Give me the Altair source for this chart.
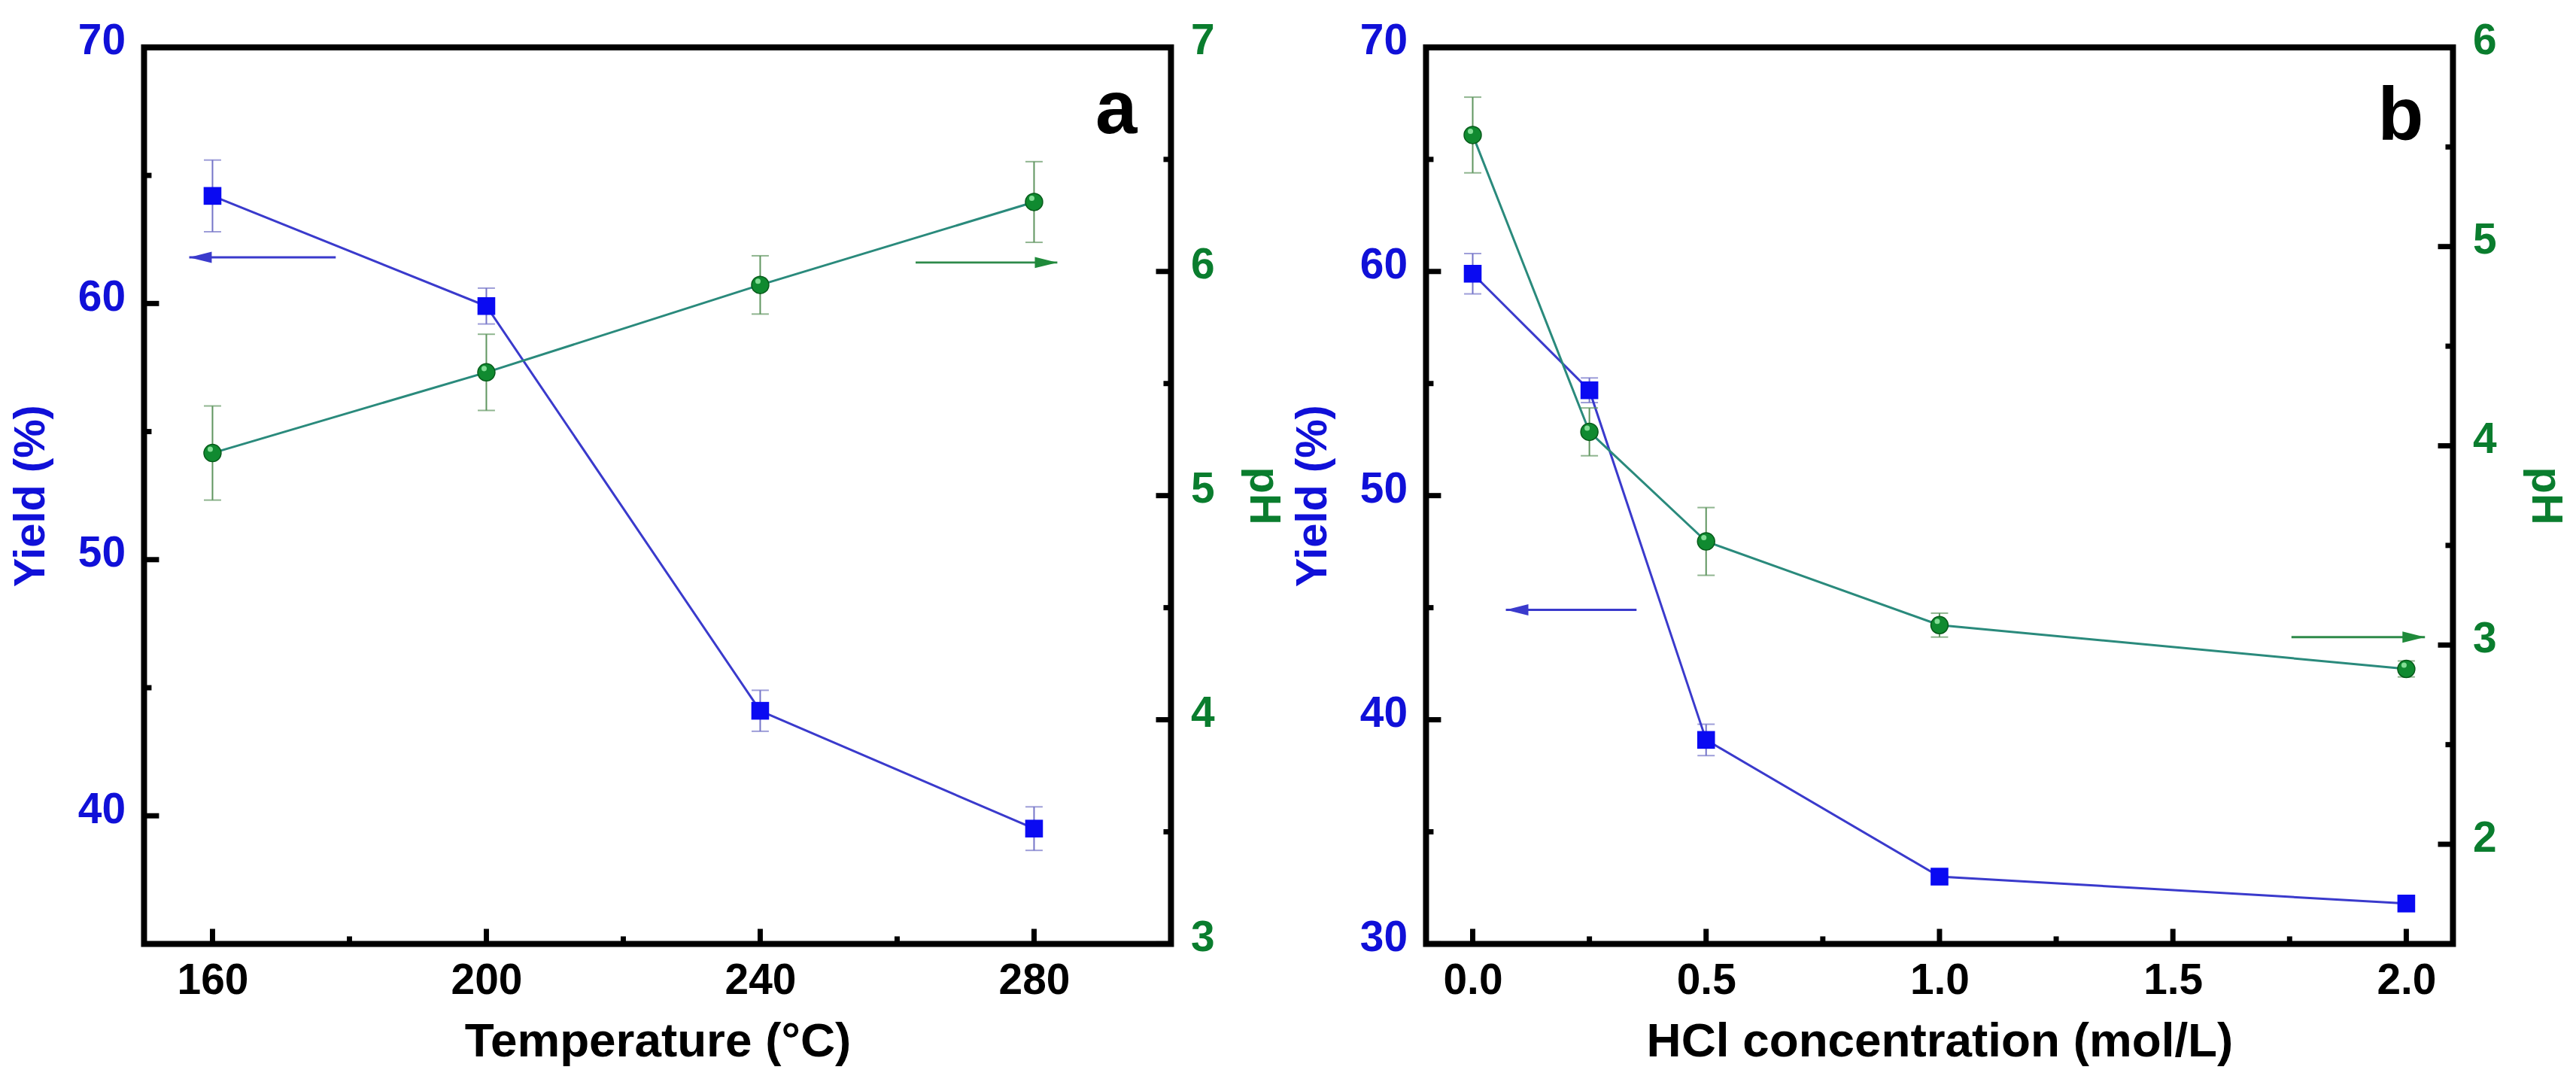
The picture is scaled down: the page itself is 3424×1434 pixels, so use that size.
import altair as alt
import pandas as pd

FONT = "Liberation Sans"
BLUE = "#1010d8"
GREEN = "#0a7d2e"
W, H = 1369, 1195

# panel a : reaction temperature
temp = [160, 200, 240, 280]
yield_a = [64.2, 59.9, 44.1, 39.5]
yield_a_err = [1.4, 0.7, 0.8, 0.85]
ph_a = [5.19, 5.55, 5.94, 6.31]
ph_a_err = [0.21, 0.17, 0.13, 0.18]

# panel b : HCl concentration
hcl = [0.0, 0.25, 0.5, 1.0, 2.0]
yield_b = [59.9, 54.7, 39.1, 33.0, 31.8]
yield_b_err = [0.9, 0.55, 0.7, 0.3, 0.3]
ph_b = [5.56, 4.07, 3.52, 3.10, 2.88]
ph_b_err = [0.19, 0.12, 0.17, 0.06, 0.04]

# tick values (major ones get labels)
a_x_major = [160, 200, 240, 280]
a_x_minor = [180, 220, 260]
a_yield_major = [40, 50, 60, 70]
a_yield_minor = [45, 55, 65]
a_ph_major = [3, 4, 5, 6, 7]
a_ph_minor = [3.5, 4.5, 5.5, 6.5]
b_x_major = [0.0, 0.5, 1.0, 1.5, 2.0]
b_x_minor = [0.25, 0.75, 1.25, 1.75]
b_yield_major = [30, 40, 50, 60, 70]
b_yield_minor = [35, 45, 55, 65]
b_ph_major = [2, 3, 4, 5, 6]
b_ph_minor = [2.5, 3.5, 4.5, 5.5]

# arrows showing which axis a series belongs to: x start, x tip, level
a_arrow_yield = [178, 156.6, 61.8]
a_arrow_ph = [262.7, 283.4, 6.04]
b_arrow_yield = [0.351, 0.071, 44.9]
b_arrow_ph = [1.754, 2.04, 3.04]

# panel letters: x, y (yield scale)
a_letter = [292, 66.65]
b_letter = [1.988, 65.87]

HEAD_LEFT = "M0,0L2,-0.5L2,0.5Z"
HEAD_RIGHT = "M0,0L-2,-0.5L-2,0.5Z"


def make_axis(orient, color, values, fmt, label_pad, title_pad, title_size, label_offset=0, title_angle=None):
    extra = {} if title_angle is None else {"titleAngle": title_angle}
    return alt.Axis(orient=orient, values=values, format=fmt, ticks=False, tickSize=0,
                    domain=False, grid=False, labelFlush=False, labelOverlap=False,
                    labelFont=FONT, labelFontWeight="bold", labelFontSize=57,
                    labelColor=color, labelPadding=label_pad, labelOffset=label_offset,
                    titleFont=FONT, titleFontWeight="bold", titleFontSize=title_size,
                    titleColor=color, titlePadding=title_pad, **extra)


def panel(xv, yv, ye, pv, pe, x_dom, x_major, x_minor, x_fmt, x_title,
          yl_dom, yl_major, yl_minor, yr_dom, yr_major, yr_minor,
          arr_y, arr_p, letter_pos, letter):
    xs = alt.Scale(domain=x_dom, nice=False, zero=False)
    xa = make_axis("bottom", "black", x_major, x_fmt, 21, 22, 64)
    ls = alt.Scale(domain=yl_dom, nice=False, zero=False)
    la = make_axis("left", BLUE, yl_major, "d", 25, 33, 58, -8)
    rs = alt.Scale(domain=yr_dom, nice=False, zero=False)
    ra = make_axis("right", GREEN, yr_major, "d", 26, 36, 58, -8, 90)

    def X(f):
        return alt.X(f, type="quantitative", scale=xs, axis=xa, title=x_title)

    def YL(f):
        return alt.Y(f, type="quantitative", scale=ls, axis=la, title="Yield (%)")

    def YR(f):
        return alt.Y(f, type="quantitative", scale=rs, axis=ra, title="pH")

    yd = pd.DataFrame({"x": xv, "y": yv, "lo": [a - b for a, b in zip(yv, ye)],
                       "hi": [a + b for a, b in zip(yv, ye)]})
    pdf = pd.DataFrame({"x": xv, "y": pv, "lo": [a - b for a, b in zip(pv, pe)],
                        "hi": [a + b for a, b in zip(pv, pe)]})
    ycaps = pd.DataFrame({"x": xv + xv, "v": list(yd["lo"]) + list(yd["hi"])})
    pcaps = pd.DataFrame({"x": xv + xv, "v": list(pdf["lo"]) + list(pdf["hi"])})

    # left (yield) group
    y_err = alt.Chart(yd).mark_rule(color="#7474c8", strokeWidth=2).encode(x=X("x"), y=YL("lo"), y2="hi")
    y_cap = alt.Chart(ycaps).mark_tick(orient="horizontal", size=23, thickness=2, color="#7474c8").encode(
        x=X("x"), y=YL("v"))
    y_line = alt.Chart(yd).mark_line(color="#3a3acc", strokeWidth=3).encode(x=X("x"), y=YL("y"))
    y_pts = alt.Chart(yd).mark_point(shape="square", filled=True, size=560, color="#0a0af2",
                                     opacity=1).encode(x=X("x"), y=YL("y"))
    yl_maj = alt.Chart(pd.DataFrame({"v": yl_major})).mark_rule(color="black", strokeWidth=7).encode(
        y=YL("v"), x=alt.value(0), x2=alt.value(20))
    yl_min = alt.Chart(pd.DataFrame({"v": yl_minor})).mark_rule(color="black", strokeWidth=7).encode(
        y=YL("v"), x=alt.value(0), x2=alt.value(10))
    x_maj = alt.Chart(pd.DataFrame({"v": x_major})).mark_rule(color="black", strokeWidth=7).encode(
        x=X("v"), y=alt.value(H), y2=alt.value(H - 20))
    x_min = alt.Chart(pd.DataFrame({"v": x_minor})).mark_rule(color="black", strokeWidth=7).encode(
        x=X("v"), y=alt.value(H), y2=alt.value(H - 10))
    ya = pd.DataFrame({"x0": [arr_y[0]], "x1": [arr_y[1]], "lvl": [arr_y[2]]})
    ya_shaft = alt.Chart(ya).mark_rule(color="#3a3acc", strokeWidth=3).encode(x=X("x0"), x2="x1", y=YL("lvl"))
    ya_head = alt.Chart(ya).mark_point(shape=HEAD_LEFT, size=900, filled=True, color="#3a3acc",
                                       opacity=1).encode(x=X("x1"), y=YL("lvl"))
    let = alt.Chart(pd.DataFrame({"x": [letter_pos[0]], "y": [letter_pos[1]], "t": [letter]})).mark_text(
        font=FONT, fontWeight="bold", fontSize=100, color="black", align="center",
        baseline="alphabetic").encode(x=X("x"), y=YL("y"), text="t:N")
    left = alt.layer(y_err, y_cap, y_line, y_pts, yl_maj, yl_min, x_maj, x_min, ya_shaft, ya_head, let)

    # right (pH) group
    p_err = alt.Chart(pdf).mark_rule(color="#5f955f", strokeWidth=2).encode(x=X("x"), y=YR("lo"), y2="hi")
    p_cap = alt.Chart(pcaps).mark_tick(orient="horizontal", size=23, thickness=2, color="#5f955f").encode(
        x=X("x"), y=YR("v"))
    p_line = alt.Chart(pdf).mark_line(color="#2a8a7c", strokeWidth=3).encode(x=X("x"), y=YR("y"))
    p_pts = alt.Chart(pdf).mark_circle(size=530, color="#108a30", stroke="#075a1a", strokeWidth=1.5,
                                       opacity=1).encode(x=X("x"), y=YR("y"))
    p_shine = alt.Chart(pdf).mark_circle(size=50, color="#8fe6a0", opacity=0.9, xOffset=-3,
                                         yOffset=-5).encode(x=X("x"), y=YR("y"))
    yr_maj = alt.Chart(pd.DataFrame({"v": yr_major})).mark_rule(color="black", strokeWidth=7).encode(
        y=YR("v"), x=alt.value(W - 20), x2=alt.value(W))
    yr_min = alt.Chart(pd.DataFrame({"v": yr_minor})).mark_rule(color="black", strokeWidth=7).encode(
        y=YR("v"), x=alt.value(W - 10), x2=alt.value(W))
    pa = pd.DataFrame({"x0": [arr_p[0]], "x1": [arr_p[1]], "lvl": [arr_p[2]]})
    pa_shaft = alt.Chart(pa).mark_rule(color="#2e8a4a", strokeWidth=3).encode(x=X("x0"), x2="x1", y=YR("lvl"))
    pa_head = alt.Chart(pa).mark_point(shape=HEAD_RIGHT, size=900, filled=True, color="#1f8a3a",
                                       opacity=1).encode(x=X("x1"), y=YR("lvl"))
    right = alt.layer(p_err, p_cap, p_line, p_pts, p_shine, yr_maj, yr_min, pa_shaft, pa_head)

    return alt.layer(left, right).resolve_scale(y="independent").properties(width=W, height=H)


chart_a = panel(temp, yield_a, yield_a_err, ph_a, ph_a_err, [150, 300], a_x_major, a_x_minor, "d",
                "Temperature (°C)", [35, 70], a_yield_major, a_yield_minor, [3, 7], a_ph_major, a_ph_minor,
                a_arrow_yield, a_arrow_ph, a_letter, "a")
chart_b = panel(hcl, yield_b, yield_b_err, ph_b, ph_b_err, [-0.1, 2.1], b_x_major, b_x_minor, ".1f",
                "HCl concentration (mol/L)", [30, 70], b_yield_major, b_yield_minor, [1.5, 6], b_ph_major,
                b_ph_minor, b_arrow_yield, b_arrow_ph, b_letter, "b")

chart = alt.hconcat(chart_a, chart_b, spacing=0).properties(
    padding={"left": 0, "top": 12, "right": 0, "bottom": 0},
    background="white",
).configure_view(stroke="black", strokeWidth=8)

chart.save("out.html", embed_options={"renderer": "svg", "actions": False})
